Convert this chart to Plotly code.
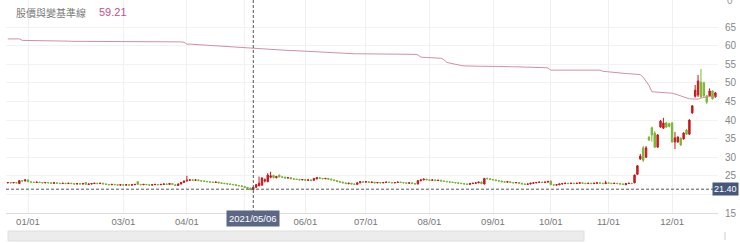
import pandas as pd
import plotly.graph_objects as go

# ---------------- data ----------------
holidays = ["2021-01-01", "2021-02-08", "2021-02-09", "2021-02-10", "2021-02-11",
            "2021-02-12", "2021-02-15", "2021-02-16", "2021-03-01", "2021-04-02",
            "2021-04-05", "2021-06-14", "2021-09-20", "2021-09-21", "2021-10-11",
            "2021-12-31"]

open_ = [
    23.1, 23.2, 23.1, 23.2, 22.9, 23.7, 23.6, 23.9, 23.4, 23.3,
    23.2, 23.3, 23.2, 23.1, 23.2, 23.1, 23.0, 23.1, 23.0, 22.9,
    23.0, 22.9, 23.0, 22.9, 22.8, 22.9, 22.8, 23.2, 22.7, 22.8,
    22.9, 23.0, 22.9, 23.0, 22.8, 22.7, 22.6, 22.7, 22.6, 22.5,
    22.6, 22.5, 22.6, 22.5, 22.6, 23.4, 22.7, 22.6, 22.7, 22.6,
    22.5, 22.6, 22.7, 22.6, 22.7, 22.8, 22.7, 22.9, 22.6, 22.4,
    22.8, 23.2, 23.6, 23.8, 23.9, 23.8, 23.9, 23.7, 23.6, 23.5,
    23.4, 23.3, 23.2, 23.3, 23.1, 23.0, 22.9, 22.8, 22.7, 22.6,
    22.4, 22.3, 22.1, 21.9, 21.7, 21.3, 21.9, 22.3, 22.5, 23.6,
    23.4, 24.6, 25.1, 24.5, 25.2, 24.7, 24.6, 24.4, 24.5, 24.2,
    24.1, 24.0, 23.9, 24.0, 23.8, 23.9, 23.8, 24.2, 24.5, 24.3,
    24.2, 24.3, 24.1, 23.9, 23.7, 23.5, 23.3, 23.1, 22.9, 23.0,
    22.8, 22.7, 23.1, 23.4, 23.3, 23.4, 23.2, 23.3, 23.1, 23.2,
    23.1, 23.2, 23.3, 23.2, 23.1, 23.2, 23.3, 23.2, 23.1, 23.0,
    23.1, 22.9, 22.8, 23.7, 23.9, 24.1, 23.9, 23.8, 23.9, 23.7,
    23.8, 23.6, 23.5, 23.4, 23.3, 23.2, 23.1, 23.0, 22.9, 22.8,
    22.7, 22.9, 23.0, 23.1, 23.3, 22.8, 24.3, 24.2, 24.0, 23.9,
    23.7, 23.6, 23.4, 23.3, 23.4, 23.2, 23.1, 23.2, 23.0, 22.8,
    22.7, 22.8, 23.0, 23.1, 23.2, 23.3, 23.2, 23.3, 23.6, 22.6,
    22.5, 22.6, 22.8, 22.9, 23.0, 22.9, 23.0, 22.9, 23.0, 23.1,
    23.0, 22.9, 23.0, 22.9, 23.0, 23.1, 23.0, 22.9, 23.1, 23.0,
    22.9, 23.0, 22.9, 22.8, 22.6, 22.9, 23.0,
    23.1, 25.4, 29.5, 32.5, 30.0, 35.4, 37.9, 36.5, 32.7, 38.1,
    37.8, 39.2, 39.0, 39.2, 34.1, 34.1, 35.1, 34.9, 37.3, 36.2,
    41.9, 46.4, 46.7, 50.2, 50.0, 46.5, 46.5, 47.8, 46.2,
]

high = [
    23.3, 23.3, 23.3, 23.3, 23.8, 23.8, 24.0, 24.0, 23.5, 23.4,
    23.4, 23.4, 23.3, 23.3, 23.3, 23.2, 23.2, 23.2, 23.1, 23.1,
    23.1, 23.1, 23.1, 23.0, 23.0, 23.0, 23.0, 23.3, 22.9, 23.0,
    23.1, 23.1, 23.1, 23.1, 22.9, 22.8, 22.8, 22.8, 22.7, 22.7,
    22.7, 22.7, 22.7, 22.7, 22.8, 23.5, 22.8, 22.8, 22.8, 22.7,
    22.7, 22.8, 22.8, 22.8, 22.9, 22.9, 23.0, 23.0, 22.7, 22.9,
    23.3, 23.7, 25.0, 24.0, 24.1, 24.0, 24.0, 23.8, 23.7, 23.6,
    23.5, 23.4, 23.4, 23.4, 23.2, 23.1, 23.0, 22.9, 22.8, 22.7,
    22.5, 22.4, 22.2, 22.0, 21.8, 22.0, 22.8, 24.8, 24.6, 24.3,
    25.7, 26.1, 25.3, 25.0, 25.3, 24.9, 24.8, 24.7, 24.6, 24.3,
    24.2, 24.2, 24.1, 24.1, 24.0, 24.0, 24.4, 24.6, 24.6, 24.4,
    24.4, 24.4, 24.2, 24.0, 23.8, 23.6, 23.4, 23.2, 23.1, 23.1,
    22.9, 23.2, 23.5, 23.5, 23.5, 23.5, 23.4, 23.4, 23.3, 23.3,
    23.3, 23.4, 23.4, 23.3, 23.3, 23.4, 23.4, 23.3, 23.2, 23.2,
    23.2, 23.0, 23.8, 24.0, 24.2, 24.2, 24.0, 24.0, 24.0, 23.9,
    23.9, 23.7, 23.6, 23.5, 23.4, 23.3, 23.2, 23.1, 23.0, 22.9,
    23.0, 23.1, 23.2, 23.4, 23.5, 24.4, 24.5, 24.3, 24.1, 24.0,
    23.8, 23.7, 23.5, 23.5, 23.5, 23.3, 23.3, 23.3, 23.1, 22.9,
    22.9, 23.1, 23.2, 23.3, 23.4, 23.4, 23.4, 23.6, 23.7, 22.7,
    22.7, 22.9, 23.0, 23.1, 23.1, 23.1, 23.1, 23.1, 23.2, 23.2,
    23.1, 23.1, 23.1, 23.1, 23.2, 23.2, 23.1, 23.7, 23.2, 23.1,
    23.1, 23.1, 23.0, 22.9, 23.0, 23.1, 23.1,
    25.3, 27.8, 30.9, 33.0, 33.0, 35.6, 38.2, 37.0, 36.2, 40.0,
    40.6, 39.5, 39.3, 39.4, 36.8, 35.6, 35.3, 36.7, 37.6, 40.2,
    44.0, 49.4, 52.1, 53.7, 50.3, 46.7, 48.5, 48.0, 47.5,
]

low = [
    23.0, 23.0, 23.0, 23.0, 22.8, 23.5, 23.5, 23.3, 23.2, 23.1,
    23.1, 23.1, 23.0, 23.0, 23.0, 22.9, 22.9, 22.9, 22.8, 22.8,
    22.8, 22.8, 22.8, 22.7, 22.7, 22.7, 22.7, 22.6, 22.6, 22.7,
    22.8, 22.8, 22.8, 22.8, 22.6, 22.5, 22.5, 22.5, 22.4, 22.4,
    22.4, 22.4, 22.4, 22.4, 22.5, 22.6, 22.5, 22.5, 22.5, 22.4,
    22.4, 22.5, 22.5, 22.5, 22.6, 22.6, 22.6, 22.6, 22.3, 22.3,
    22.7, 23.1, 23.5, 23.6, 23.7, 23.6, 23.6, 23.5, 23.4, 23.3,
    23.2, 23.1, 23.1, 23.0, 22.9, 22.8, 22.7, 22.6, 22.5, 22.3,
    22.2, 22.0, 21.8, 21.6, 21.1, 21.2, 21.8, 22.2, 22.3, 23.2,
    23.3, 24.3, 24.3, 24.3, 24.6, 24.4, 24.3, 24.3, 24.1, 24.0,
    23.9, 23.8, 23.8, 23.7, 23.6, 23.6, 23.7, 24.0, 24.2, 24.1,
    24.1, 24.0, 23.8, 23.6, 23.4, 23.2, 23.0, 22.8, 22.7, 22.7,
    22.6, 22.6, 23.0, 23.2, 23.2, 23.1, 23.1, 23.0, 23.0, 23.0,
    23.0, 23.1, 23.1, 23.0, 23.0, 23.1, 23.1, 23.0, 22.9, 22.9,
    22.8, 22.7, 22.7, 23.5, 23.8, 23.8, 23.7, 23.7, 23.6, 23.6,
    23.5, 23.4, 23.3, 23.2, 23.1, 23.0, 22.9, 22.8, 22.7, 22.6,
    22.6, 22.8, 22.9, 23.0, 22.8, 22.7, 24.1, 23.9, 23.8, 23.6,
    23.5, 23.3, 23.2, 23.2, 23.1, 23.0, 23.0, 22.9, 22.7, 22.6,
    22.6, 22.7, 22.9, 23.0, 23.1, 23.1, 23.1, 23.2, 22.5, 22.4,
    22.4, 22.5, 22.7, 22.8, 22.8, 22.8, 22.8, 22.8, 22.9, 22.9,
    22.8, 22.8, 22.8, 22.8, 22.9, 22.9, 22.8, 22.8, 22.9, 22.8,
    22.8, 22.8, 22.7, 22.6, 22.5, 22.8, 22.8,
    23.0, 25.3, 29.3, 28.7, 29.8, 34.4, 34.2, 32.5, 32.6, 37.9,
    37.6, 37.9, 38.0, 33.9, 32.2, 33.9, 33.0, 34.7, 36.0, 36.0,
    41.7, 46.0, 46.2, 46.0, 46.2, 44.3, 46.3, 45.5, 46.0,
]

close = [
    23.2, 23.1, 23.2, 23.1, 23.7, 23.6, 23.9, 23.4, 23.3, 23.2,
    23.3, 23.2, 23.1, 23.2, 23.1, 23.0, 23.1, 23.0, 22.9, 23.0,
    22.9, 23.0, 22.9, 22.8, 22.9, 22.8, 22.9, 22.7, 22.8, 22.9,
    23.0, 22.9, 23.0, 22.8, 22.7, 22.6, 22.7, 22.6, 22.5, 22.6,
    22.5, 22.6, 22.5, 22.6, 22.7, 22.7, 22.6, 22.7, 22.6, 22.5,
    22.6, 22.7, 22.6, 22.7, 22.8, 22.7, 22.9, 22.7, 22.4, 22.8,
    23.2, 23.6, 23.8, 23.9, 23.8, 23.9, 23.7, 23.6, 23.5, 23.4,
    23.3, 23.2, 23.3, 23.1, 23.0, 22.9, 22.8, 22.7, 22.6, 22.4,
    22.3, 22.1, 21.9, 21.7, 21.3, 21.9, 22.6, 23.0, 24.4, 23.9,
    25.2, 25.0, 24.5, 24.8, 24.7, 24.6, 24.4, 24.5, 24.2, 24.1,
    24.0, 23.9, 24.0, 23.8, 23.9, 23.7, 24.3, 24.5, 24.3, 24.2,
    24.3, 24.1, 23.9, 23.7, 23.5, 23.3, 23.1, 22.9, 23.0, 22.8,
    22.7, 23.1, 23.4, 23.3, 23.4, 23.2, 23.3, 23.1, 23.2, 23.1,
    23.2, 23.3, 23.2, 23.1, 23.2, 23.3, 23.2, 23.1, 23.0, 23.1,
    22.9, 22.8, 23.7, 23.9, 24.1, 23.9, 23.8, 23.9, 23.7, 23.8,
    23.6, 23.5, 23.4, 23.3, 23.2, 23.1, 23.0, 22.9, 22.8, 22.7,
    22.9, 23.0, 23.1, 23.3, 22.9, 24.3, 24.2, 24.0, 23.9, 23.7,
    23.6, 23.4, 23.3, 23.4, 23.2, 23.1, 23.2, 23.0, 22.8, 22.7,
    22.8, 23.0, 23.1, 23.2, 23.3, 23.2, 23.3, 23.5, 22.6, 22.5,
    22.6, 22.8, 22.9, 23.0, 22.9, 23.0, 22.9, 23.0, 23.1, 23.0,
    22.9, 23.0, 22.9, 23.0, 23.1, 23.0, 22.9, 23.1, 23.0, 22.9,
    23.0, 22.9, 22.8, 22.7, 22.9, 23.0, 22.9,
    25.2, 27.7, 30.3, 29.2, 32.5, 34.6, 36.0, 32.7, 36.0, 39.7,
    39.2, 38.1, 38.3, 34.1, 35.2, 35.4, 33.3, 36.5, 36.2, 40.0,
    43.8, 48.0, 50.5, 46.2, 46.5, 44.8, 47.8, 45.7, 47.3,
]

base_line = [
    61.8, 61.8, 61.8, 61.8, 61.8,
    61.4, 61.4, 61.4, 61.35, 61.35, 61.35, 61.3, 61.3, 61.3, 61.3,
    61.25, 61.25, 61.25, 61.2, 61.2, 61.2, 61.2, 61.15, 61.15, 61.15,
    61.15, 61.1, 61.1, 61.1, 61.1, 61.1, 61.05, 61.05, 61.05, 61.05,
    61.05, 61.05, 61.05, 61.05, 61.05, 61.05, 61.05, 61.05, 61.05, 61.05,
    61.05, 61.05, 61.05, 61.05, 61.05, 61.05, 61.05, 61.05, 61.05, 61.05,
    61.05, 61.05, 61.05, 61.05, 61.0, 61.0, 60.9,
    60.4, 60.4, 60.35, 60.3, 60.25, 60.2, 60.15, 60.1, 60.05, 60.0,
    59.95, 59.9, 59.85, 59.8, 59.75, 59.7, 59.65, 59.6, 59.55, 59.5,
    59.45, 59.4, 59.35,
    59.21,
    59.1, 59.05, 59.0, 59.0, 58.95, 58.9, 58.9, 58.85, 58.8, 58.8,
    58.75, 58.7, 58.7, 58.65, 58.6, 58.6, 58.55, 58.5, 58.5, 58.45,
    58.4, 58.4, 58.35, 58.3, 58.2, 58.1, 58.0, 58.0, 57.95, 57.9,
    57.9, 57.9, 57.85, 57.85, 57.8, 57.8, 57.8, 57.8, 57.8, 57.8,
    57.8, 57.8, 57.75, 57.75, 57.75, 57.75, 57.75, 57.75, 57.7, 57.7,
    57.7, 57.7, 57.7, 57.7, 57.7, 57.65, 57.5,
    56.9, 56.85, 56.8, 56.8, 56.75, 56.7, 56.65, 56.6, 56.2,
    55.5, 55.3, 55.1, 54.9, 54.75, 54.65, 54.55,
    54.5, 54.5, 54.5, 54.45, 54.45, 54.45, 54.4, 54.4, 54.4, 54.4,
    54.4, 54.4, 54.35, 54.35, 54.35, 54.35, 54.3, 54.3, 54.3, 54.3,
    54.3, 54.3, 54.3, 54.25, 54.2, 54.15, 54.1, 54.05, 54.0,
    53.4, 53.4, 53.4, 53.4, 53.4, 53.4, 53.4, 53.4, 53.4, 53.4,
    53.4, 53.4, 53.4, 53.4, 53.4, 53.4, 53.4, 53.4,
    53.1, 53.0, 53.0, 52.95, 52.9, 52.8, 52.7, 52.6, 52.5, 52.45,
    52.4, 52.4, 52.3, 52.2, 51.5, 50.5, 49.3, 47.6,
    47.55, 47.5, 47.45, 47.4, 47.3, 47.25, 47.2,
    47.0, 46.7, 46.4, 46.1, 45.8,
    45.7, 45.65, 45.6, 45.6,
    45.9, 46.1, 46.3,
    46.3, 46.35, 46.4,
]

y_ticks = [15, 20, 25, 30, 35, 40, 45, 50, 55, 60, 65]
legend_name = "股價與變基準線"
legend_value = "59.21"
cross_date = "2021-05-06"
cross_price = 21.40

# ---------------- trading days / ticks ----------------
n = len(close)
days = [d for d in pd.bdate_range("2020-12-23", "2021-12-31")
        if d.strftime("%Y-%m-%d") not in holidays][:n]
idx = list(range(n))

cross_i = [d.strftime("%Y-%m-%d") for d in days].index(cross_date)

tick_vals, tick_text = [], []
seen = set()
for i, d in enumerate(days):
    key = (d.year, d.month)
    if key not in seen:
        seen.add(key)
        if d.year == 2021 and d.month != 2:
            tick_vals.append(i)
            # the month tick hidden under the crosshair date label keeps only its gridline
            tick_text.append("" if d.month == days[cross_i].month else f"{d.month:02d}/01")

# the y tick hidden under the crosshair price label keeps only its gridline
y_text = ["" if abs(v - cross_price) < 2.5 else str(v) for v in y_ticks]

# ---------------- figure ----------------
W, H = 740, 243
ML, MR, MT, MB = 6, 22, 0, 30
PW, PH = W - ML - MR, H - MT - MB

RED = "#c9171e"
GREEN = "#7ab733"

fig = go.Figure()
fig.add_trace(go.Scatter(
    x=idx, y=base_line[:n], mode="lines",
    line=dict(color="#d48fa3", width=1), hoverinfo="skip"))
fig.add_trace(go.Candlestick(
    x=idx, open=open_, high=high, low=low, close=close,
    increasing=dict(line=dict(color=RED, width=1), fillcolor=RED),
    decreasing=dict(line=dict(color=GREEN, width=1), fillcolor=GREEN),
    whiskerwidth=0, hoverinfo="skip"))

def px_x(p):
    return (p - ML) / PW

def px_y(p):
    return 1 - (p - MT) / PH

dash_line = dict(color="#555555", width=1, dash="3px,2px")
fig.add_shape(type="line", xref="paper", yref="y", x0=0, x1=1,
              y0=cross_price, y1=cross_price, line=dash_line)
fig.add_shape(type="line", xref="x", yref="paper", x0=cross_i, x1=cross_i,
              y0=0, y1=1, line=dash_line)
# scrollbar / navigator strip
fig.add_shape(type="rect", xref="paper", yref="paper",
              x0=px_x(8), x1=px_x(584), y0=px_y(241), y1=px_y(231),
              fillcolor="#ececec", line=dict(color="#dedede", width=1), layer="below")
fig.add_shape(type="line", xref="paper", yref="paper",
              x0=px_x(725), x1=px_x(725), y0=px_y(240), y1=px_y(232),
              line=dict(color="#cccccc", width=1))

fig.add_annotation(xref="paper", yref="paper", x=px_x(14), y=px_y(12),
                   xanchor="left", yanchor="middle", showarrow=False,
                   text=legend_name,
                   font=dict(family="Noto Sans CJK TC", size=10, color="#7a7a7a"))
fig.add_annotation(xref="paper", yref="paper", x=px_x(97), y=px_y(12),
                   xanchor="left", yanchor="middle", showarrow=False,
                   text=legend_value,
                   font=dict(family="Liberation Sans, Arial", size=11, color="#c4508c"))
fig.add_annotation(xref="paper", yref="paper", x=px_x(739), y=px_y(189),
                   xanchor="right", yanchor="middle", showarrow=False,
                   text=f"{cross_price:.2f}", bgcolor="#46587a", borderpad=1,
                   font=dict(family="Liberation Sans, Arial", size=9, color="white"))
fig.add_annotation(xref="x", yref="paper", x=cross_i, y=0, yshift=3,
                   xanchor="center", yanchor="top", showarrow=False,
                   text=days[cross_i].strftime("%Y/%m/%d"), bgcolor="#5b6784",
                   borderpad=2,
                   font=dict(family="Liberation Sans, Arial", size=9.5, color="white"))
fig.add_annotation(xref="paper", yref="paper", x=px_x(725), y=px_y(1),
                   xanchor="left", yanchor="middle", showarrow=False, text="0",
                   font=dict(family="Liberation Sans, Arial", size=10, color="#999999"))

fig.update_layout(
    width=W, height=H, margin=dict(l=ML, r=MR, t=MT, b=MB),
    paper_bgcolor="white", plot_bgcolor="white",
    showlegend=False, hovermode=False,
    xaxis=dict(range=[-0.62, 245.9], tickmode="array", tickvals=tick_vals,
               ticktext=tick_text, showgrid=True, gridcolor="#f0f0f0",
               showline=True, linecolor="#dcdcdc", ticks="", zeroline=False,
               rangeslider=dict(visible=False),
               tickfont=dict(family="Liberation Sans, Arial", size=9.5, color="#777777")),
    yaxis=dict(side="right", range=[15, 15 + PH / 3.72], tickmode="array",
               tickvals=y_ticks, ticktext=y_text, showgrid=True, gridcolor="#f2f2f2",
               zeroline=False, showline=False, ticks="", ticklabelstandoff=6,
               tickfont=dict(family="Liberation Sans, Arial", size=10, color="#888888")),
)

fig.write_html("out.html", config={"displayModeBar": False})
